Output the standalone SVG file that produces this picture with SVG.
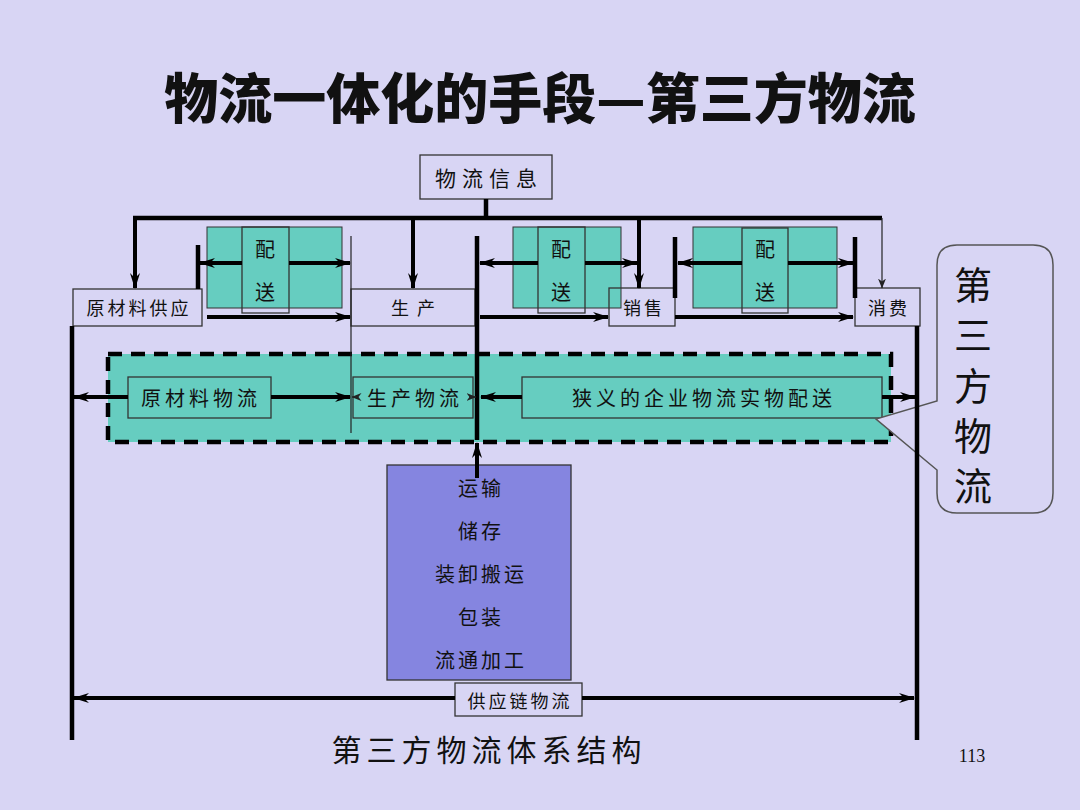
<svg xmlns="http://www.w3.org/2000/svg" width="1080" height="810" viewBox="0 0 1080 810">
<defs>
<style>
text{font-family:"Noto Sans CJK SC","Noto Sans",sans-serif;fill:#111;dominant-baseline:central;text-anchor:middle}
.box{fill:#D8D5F4;stroke:#333;stroke-width:1.3}
.open{fill:none;stroke:#333;stroke-width:1.3}
.green{fill:#66CDC0;stroke:#333;stroke-width:1}
.thick{stroke:#000;stroke-width:4.5;fill:none}
.mid{stroke:#000;stroke-width:4;fill:none}
.thin{stroke:#222;stroke-width:1.2;fill:none}
.lbl{font-size:18px;letter-spacing:3px}
.ps{font-size:20px}
.flow{font-size:20px;letter-spacing:4px}
.tr{font-size:20px;letter-spacing:3px}
</style>
<marker id="big" viewBox="0 0 16 10" refX="15" refY="5" markerWidth="16" markerHeight="10" markerUnits="userSpaceOnUse" orient="auto-start-reverse"><path d="M0,0 L16,5 L0,10 L5,5 z" fill="#000"/></marker>
<marker id="sm" viewBox="0 0 10 8" refX="9.5" refY="4" markerWidth="10" markerHeight="8" markerUnits="userSpaceOnUse" orient="auto-start-reverse"><path d="M0,0 L10,4 L0,8 L3,4 z" fill="#222"/></marker>
</defs>
<rect x="0" y="0" width="1080" height="810" fill="#D8D5F4"/>
<text x="540" y="95" style="font-size:54px;font-weight:900">物流一体化的手段—第三方物流</text>

<g id="band">
<rect x="108" y="354" width="783" height="88" fill="#66CDC0" stroke="#000" stroke-width="4.5" stroke-dasharray="14 9"/>
</g>

<g id="ps1"><rect class="green" x="207" y="227" width="135" height="81"/><rect class="open" x="242" y="227" width="47" height="86"/><text class="ps" x="265" y="248">配</text><text class="ps" x="265" y="291">送</text></g>
<g id="ps2"><rect class="green" x="513" y="227" width="108" height="81"/><rect class="open" x="538" y="227" width="47" height="86"/><text class="ps" x="561" y="248">配</text><text class="ps" x="561" y="291">送</text></g>
<g id="ps3"><rect class="green" x="693" y="227" width="144" height="81"/><rect class="open" x="742" y="228" width="46" height="85"/><text class="ps" x="765" y="248">配</text><text class="ps" x="765" y="291">送</text></g>

<g id="info"><rect class="box" x="420" y="155" width="132" height="44"/><text x="489" y="177" style="font-size:21px;letter-spacing:6px">物流信息</text></g>
<g id="supply"><rect class="box" x="73" y="289" width="129" height="37"/><text class="lbl" x="139" y="307">原材料供应</text></g>
<g id="prod"><rect class="box" x="351" y="289" width="124" height="37"/><text class="lbl" x="417" y="307" style="letter-spacing:8px">生产</text></g>
<g id="sales"><rect class="open" x="609" y="288" width="66" height="38"/><text class="lbl" x="644" y="307">销售</text></g>
<g id="consume"><rect class="box" x="855" y="288" width="65" height="38"/><text class="lbl" x="889" y="307">消费</text></g>

<g id="rawflow"><rect class="open" x="128" y="377" width="143" height="41"/><text class="flow" x="201" y="397">原材料物流</text></g>
<g id="prodflow"><rect class="open" x="353" y="377" width="120" height="41"/><text class="flow" x="415" y="397">生产物流</text></g>
<g id="distflow"><rect class="open" x="522" y="377" width="360" height="41"/><text class="flow" x="704" y="397">狭义的企业物流实物配送</text></g>

<g id="functions"><rect x="387" y="465" width="184" height="215" fill="#8585E0" stroke="#333" stroke-width="1.3"/>
<text class="tr" x="481" y="487">运输</text><text class="tr" x="481" y="530">储存</text><text class="tr" x="481" y="573">装卸搬运</text><text class="tr" x="481" y="616">包装</text><text class="tr" x="481" y="659">流通加工</text></g>

<g id="chain"><rect class="box" x="455" y="683" width="127" height="33"/><text class="lbl" x="520" y="700">供应链物流</text></g>

<g id="callout"><path d="M957,245 H1033 Q1053,245 1053,265 V493 Q1053,513 1033,513 H957 Q937,513 937,493 V470 L876,419 L937,401 V265 Q937,245 957,245 Z" fill="#D8D5F4" stroke="#555" stroke-width="1.5"/>
<text x="973" y="282" style="font-size:38px">第</text><text x="973" y="332" style="font-size:38px">三</text><text x="973" y="383" style="font-size:38px">方</text><text x="973" y="433" style="font-size:38px">物</text><text x="973" y="483" style="font-size:38px">流</text></g>

<g id="connectors">
<path class="thick" d="M486,199 V218 M133,218 H882"/>
<path class="mid" d="M135,218 V288" marker-end="url(#big)"/>
<path class="mid" d="M413,218 V288" marker-end="url(#big)"/>
<path class="mid" d="M639,218 V288" marker-end="url(#big)"/>
<path class="thin" d="M882,218 V288" marker-end="url(#sm)"/>
<path class="thick" d="M198,245 V289 M477,236 V440 M675,237 V298 M855,237 V298"/>
<path class="thin" d="M351,236 V433"/>
<path class="mid" d="M242,263 H200" marker-end="url(#big)"/>
<path class="mid" d="M289,263 H350" marker-end="url(#big)"/>
<path class="mid" d="M538,263 H480" marker-end="url(#big)"/>
<path class="mid" d="M585,263 H637" marker-end="url(#big)"/>
<path class="mid" d="M742,263 H678" marker-end="url(#big)"/>
<path class="mid" d="M788,263 H853" marker-end="url(#big)"/>
<path class="mid" d="M207,317 H350" marker-end="url(#big)"/>
<path class="mid" d="M480,317 H608" marker-end="url(#big)"/>
<path class="mid" d="M675,317 H853" marker-end="url(#big)"/>
<path class="mid" d="M128,397 H74" marker-end="url(#big)"/>
<path class="mid" d="M271,397 H350" marker-end="url(#big)"/>
<path class="thin" d="M358,397 H352" marker-end="url(#sm)"/>
<path class="thin" d="M469,397 H476" marker-end="url(#sm)"/>
<path class="mid" d="M522,397 H481" marker-end="url(#big)"/>
<path class="mid" d="M882,397 H915" marker-end="url(#big)"/>
<path class="mid" d="M477,478 V443" marker-end="url(#big)"/>
<path class="thick" d="M72,326 V740 M917,326 V740"/>
<path class="mid" d="M455,698 H74" marker-end="url(#big)"/>
<path class="mid" d="M582,698 H914" marker-end="url(#big)"/>
</g>

<text x="489" y="748" style="font-size:30px;letter-spacing:5px">第三方物流体系结构</text>
<text x="972" y="756" style="font-family:'Liberation Serif',serif;font-size:18px">113</text>
</svg>
